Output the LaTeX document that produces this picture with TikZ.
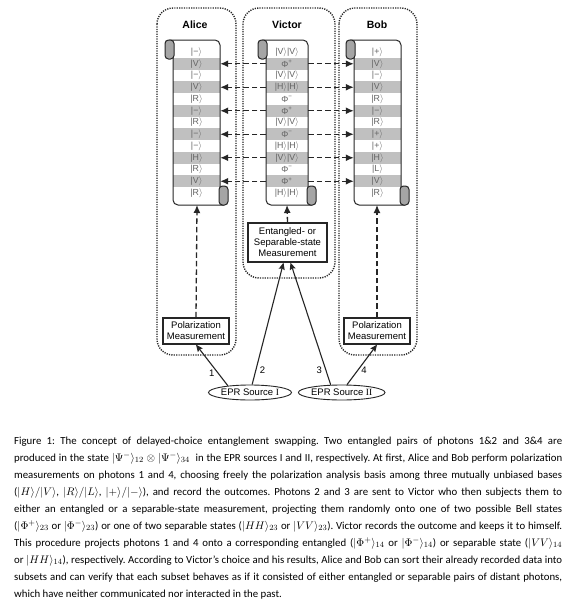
\documentclass[tikz,border=0pt]{standalone}
\usepackage{fontspec}
\setmainfont{Carlito}
\newfontfamily\diagfont{Liberation Sans}
\newfontfamily\romfont{Liberation Serif}
\usetikzlibrary{shapes.geometric,positioning,arrows.meta}
\definecolor{rowgray}{RGB}{192,192,192}
\definecolor{curlgray}{RGB}{165,165,165}
\definecolor{entrygray}{RGB}{100,100,100}
\newcommand{\pket}[1]{|#1$\rangle$}

\begin{document}
\begin{tikzpicture}[
    x=1pt, y=-1pt,
    every node/.style={font=\diagfont\fontsize{9.5}{11}\selectfont},
    party/.style={font=\diagfont\bfseries\fontsize{10.5}{12}\selectfont},
    labbox/.style={draw=black!85, line width=1.4pt, dash pattern=on 1.2pt off 1.2pt,
      rounded corners=16pt},
    scrollline/.style={draw=black!85, line width=1pt},
    curlbox/.style={scrollline, fill=curlgray, rounded corners=3.5pt},
    rowentry/.style={minimum height=11.75pt, inner sep=0pt, text=entrygray,
      font=\diagfont\fontsize{8.8}{9}\selectfont},
    rowshade/.style={rowentry, fill=rowgray},
    measbox/.style={draw=black!85, rectangle, line width=1.3pt, align=center,
      fill=white, inner sep=1pt},
    srcellipse/.style={draw=black!85, ellipse, line width=0.9pt, minimum width=83pt,
      minimum height=15pt, inner sep=0pt},
    arrow/.style={line width=1.1pt, draw=black!85, ->, >={Stealth[length=7pt,width=6pt,inset=1pt]}},
    dasharrow/.style={arrow, line width=1.3pt, dash pattern=on 5.5pt off 3pt,
      >={Latex[length=8pt,width=7pt]}}
]
\useasboundingbox (0,0) rectangle (576,600);
\fill[white] (0,0) rectangle (576,600);

% the three labs
\draw[labbox] (157,8) rectangle (236,355);
\draw[labbox] (243,8) rectangle (335,278);
\draw[labbox] (339,8) rectangle (417,355);

\node (alice)  [party] at (195,25) {Alice};
\node (victor) [party] at (287,25) {Victor};
\node (bob)    [party] at (377,25) {Bob};

% scroll rows
\foreach \e [count=\k] in {\pket{−},\pket{V},\pket{−},\pket{V},\pket{R},\pket{−},\pket{R},
    \pket{−},\pket{−},\pket{H},\pket{R},\pket{V},\pket{R}} {
  \ifodd\k
    \node (a\k) [rowentry, minimum width=47pt] at (196.5,{52+11.75*(\k-1)}) {\e};
  \else
    \node (a\k) [rowshade, minimum width=47pt] at (196.5,{52+11.75*(\k-1)}) {\e};
  \fi
}
\foreach \e [count=\k] in {\pket{V}\pket{V},Φ\textsuperscript{+},\pket{V}\pket{V},
    \pket{H}\pket{H},Φ\textsuperscript{−},Φ\textsuperscript{+},\pket{V}\pket{V},
    Φ\textsuperscript{−},\pket{H}\pket{H},\pket{V}\pket{V},Φ\textsuperscript{−},
    Φ\textsuperscript{+},\pket{H}\pket{H}} {
  \ifodd\k
    \node (v\k) [rowentry, minimum width=42pt] at (287,{52+11.75*(\k-1)}) {\e};
  \else
    \node (v\k) [rowshade, minimum width=42pt] at (287,{52+11.75*(\k-1)}) {\e};
  \fi
}
\foreach \e [count=\k] in {\pket{+},\pket{V},\pket{−},\pket{V},\pket{R},\pket{−},\pket{R},
    \pket{+},\pket{+},\pket{H},\pket{L},\pket{V},\pket{R}} {
  \ifodd\k
    \node (b\k) [rowentry, minimum width=47pt] at (377.5,{52+11.75*(\k-1)}) {\e};
  \else
    \node (b\k) [rowshade, minimum width=47pt] at (377.5,{52+11.75*(\k-1)}) {\e};
  \fi
}

% scroll outlines
\foreach \xl/\xr in {173/220,266/308,354/401} {
  \draw[scrollline, rounded corners=5pt] ({\xl-4},40) -- (\xr,40) -- (\xr,188);
  \draw[scrollline, rounded corners=5pt] (\xl,56) -- (\xl,205) -- ({\xr+4},205);
  \draw[curlbox] ({\xl-8},40) rectangle ({\xl+1},59);
  \draw[curlbox] ({\xr-1},186) rectangle ({\xr+8},205);
}
\coordinate (abot) at (197,205);
\coordinate (vbot) at (287,205);
\coordinate (bbot) at (377,205);

% measurements and sources
\node (alipol)  [measbox, minimum width=66pt, minimum height=26pt] at (196,331)
  {Polarization\\Measurement};
\node (vicmeas) [measbox, minimum width=79pt, minimum height=39pt] at (287.5,242.5)
  {Entangled- or\\Separable-state\\Measurement};
\node (bobpol)  [measbox, minimum width=66pt, minimum height=26pt] at (377,331)
  {Polarization\\Measurement};
\node (epr1) [srcellipse] at (250,392.5) {EPR Source {\romfont I}};
\node (epr2) [srcellipse, right=6pt of epr1] {EPR Source {\romfont II}};

\foreach \k in {2,4,...,12} {
  \draw[dasharrow] (v\k.west) -- (a\k.east);
  \draw[dasharrow] (v\k.east) -- (b\k.west);
}
\draw[dasharrow] (alipol.north)  -- (abot);
\draw[dasharrow] (vicmeas.north) -- (vbot);
\draw[dasharrow] (bobpol.north)  -- (bbot);

\draw[arrow] (epr1.163) -- node[left, pos=.3] {1} (alipol.south);
\draw[arrow] (epr1.75)  -- node[right, pos=.12] {2} ([xshift=-4pt]vicmeas.south);
\draw[arrow] (epr2.145) -- node[left, pos=.12] {3} ([xshift=3pt]vicmeas.south);
\draw[arrow] (epr2.56)  -- node[right, pos=.35] {4} (bobpol.south);

% caption
\node (caption) [anchor=north west, inner sep=0pt, text width=548pt, align=justify,
  font=\normalfont\fontsize{10.8}{17}\selectfont] at (14,436.5)
  {\frenchspacing\tolerance=9999\hyphenpenalty=10000
  Figure 1: The concept of delayed-choice entanglement swapping. Two entangled pairs of photons 1\&2 and 3\&4 are\linebreak
  produced in the state $|\Psi^-\rangle_{12}\otimes|\Psi^-\rangle_{34}$~ in the EPR sources I and II, respectively. At first, Alice and Bob perform polarization\linebreak
  measurements on photons 1 and 4, choosing freely the polarization analysis basis among three mutually unbiased bases\linebreak
  ($|H\rangle/|V\rangle$, $|R\rangle/|L\rangle$, $|{+}\rangle/|{-}\rangle$), and record the outcomes. Photons 2 and 3 are sent to Victor who then subjects them to\linebreak
  either an entangled or a separable-state measurement, projecting them randomly onto one of two possible Bell states\linebreak
  ($|\Phi^+\rangle_{23}$ or $|\Phi^-\rangle_{23}$) or one of two separable states ($|HH\rangle_{23}$ or $|VV\rangle_{23}$). Victor records the outcome and keeps it to himself.\linebreak
  This procedure projects photons 1 and 4 onto a corresponding entangled ($|\Phi^+\rangle_{14}$ or $|\Phi^-\rangle_{14}$) or separable state ($|VV\rangle_{14}$\linebreak
  or $|HH\rangle_{14}$), respectively. According to Victor’s choice and his results, Alice and Bob can sort their already recorded data into\linebreak
  subsets and can verify that each subset behaves as if it consisted of either entangled or separable pairs of distant photons,\linebreak
  which have neither communicated nor interacted in the past.};
\end{tikzpicture}
\end{document}
